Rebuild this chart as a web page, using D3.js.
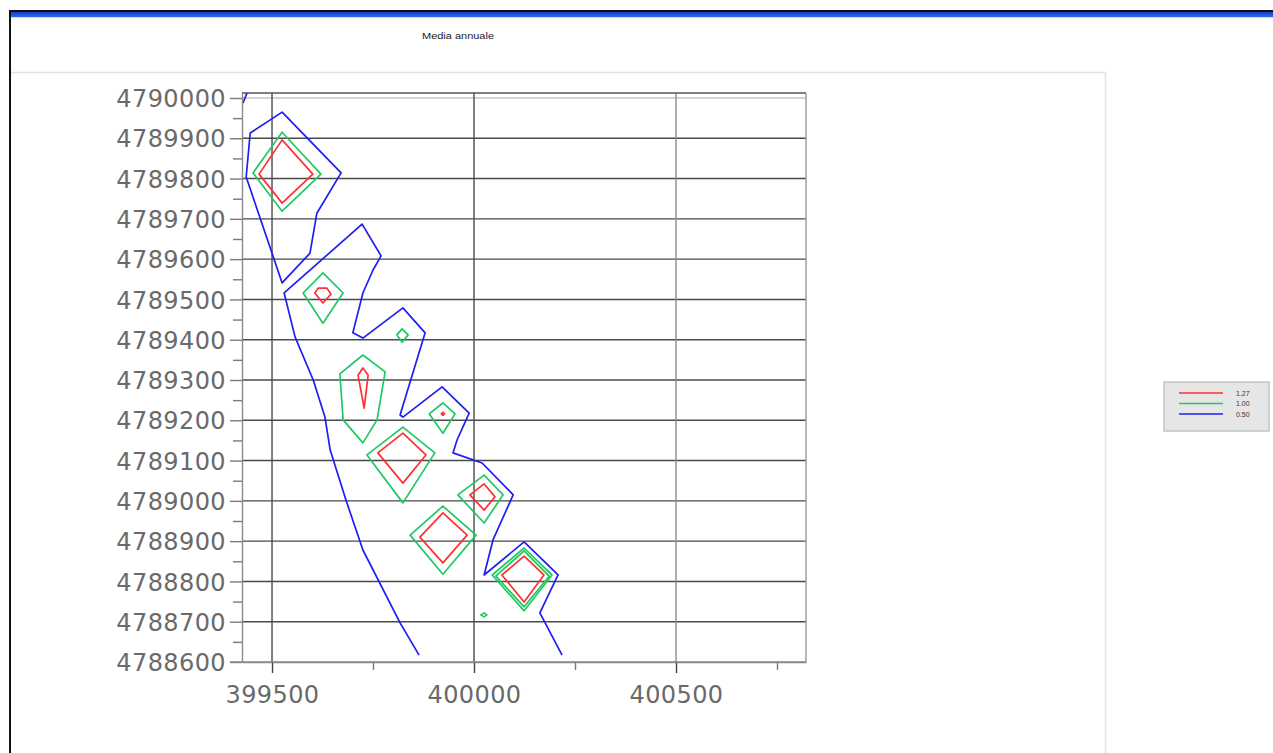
<!DOCTYPE html>
<html>
<head>
<meta charset="utf-8">
<script src="https://cdn.jsdelivr.net/npm/d3@7"></script>
<style>
  html, body { margin: 0; padding: 0; background: #ffffff; }
  svg { display: block; }
</style>
</head>
<body>
<svg id="chart" width="1273" height="753"></svg>
<script>
// ---------- data ----------
const title = "Media annuale";
const xTicks = [399500, 400000, 400500];
const xMinorTicks = [399750, 400250, 400750];
const yTicks = [4788600, 4788700, 4788800, 4788900, 4789000, 4789100, 4789200, 4789300,
                4789400, 4789500, 4789600, 4789700, 4789800, 4789900, 4790000];
const yMinorTicks = [4788650, 4788750, 4788850, 4788950, 4789050, 4789150, 4789250,
                     4789350, 4789450, 4789550, 4789650, 4789750, 4789850, 4789950];
const levels = ["1.27", "1.00", "0.50"];
const levelColors = ["#ff3030", "#20c864", "#1e1ef2"];

// contour level 0.50 (blue)
const blueOpen1 = [[399428, 4789987], [399438, 4790012]];
const blueLoop1 = [[399446, 4789913], [399525, 4789965], [399671, 4789814], [399611, 4789714],
                   [399594, 4789615], [399525, 4789541], [399436, 4789804]];
const blueOpen2 = [[399864, 4788617], [399817, 4788697], [399725, 4788878], [399683, 4789002],
                   [399644, 4789126], [399631, 4789208], [399602, 4789300], [399557, 4789407],
                   [399530, 4789516], [399723, 4789687], [399770, 4789608], [399750, 4789573],
                   [399725, 4789516], [399700, 4789417], [399725, 4789404], [399824, 4789479],
                   [399879, 4789417], [399817, 4789213], [399824, 4789208], [399921, 4789283],
                   [399988, 4789218], [399958, 4789151], [399948, 4789119], [400020, 4789094],
                   [400097, 4789015], [400047, 4788903], [400025, 4788816], [400124, 4788898],
                   [400208, 4788816], [400163, 4788722], [400218, 4788617]];

// contour level 1.00 (green)
const green1 = [[399525, 4789915], [399621, 4789811], [399525, 4789719], [399453, 4789814]];
const green2 = [[399626, 4789566], [399676, 4789516], [399626, 4789441], [399577, 4789516]];
const green3 = [[399822, 4789427], [399837, 4789412], [399822, 4789394], [399809, 4789412]];
const green4 = [[399725, 4789362], [399780, 4789320], [399760, 4789201], [399725, 4789144],
                [399676, 4789201], [399668, 4789315]];
const green5 = [[399923, 4789243], [399953, 4789216], [399923, 4789168], [399889, 4789216]];
const green6 = [[399824, 4789183], [399903, 4789119], [399824, 4788995], [399735, 4789114]];
const green7 = [[400025, 4789064], [400072, 4789015], [400025, 4788945], [399960, 4789015]];
const green8 = [[399923, 4788987], [400005, 4788915], [399923, 4788818], [399842, 4788915]];
const green9 = [[400124, 4788883], [400193, 4788816], [400124, 4788727], [400045, 4788816]];
const green9b = [[400124, 4788876], [400186, 4788813], [400124, 4788737], [400054, 4788813]];
const green10 = [[400017, 4788717], [400025, 4788722], [400032, 4788717], [400025, 4788712]];

// contour level 1.27 (red)
const red1 = [[399525, 4789896], [399601, 4789811], [399525, 4789739], [399468, 4789811]];
const red2 = [[399614, 4789528], [399636, 4789528], [399646, 4789513], [399626, 4789491], [399606, 4789516]];
const red4 = [[399725, 4789330], [399738, 4789312], [399728, 4789230], [399713, 4789312]];
const red5 = [[399923, 4789220], [399927, 4789216], [399923, 4789212], [399919, 4789216]];
const red6 = [[399824, 4789168], [399881, 4789114], [399824, 4789044], [399762, 4789119]];
const red7 = [[400025, 4789042], [400052, 4789010], [400025, 4788977], [399990, 4789015]];
const red8 = [[399923, 4788970], [399983, 4788915], [399923, 4788846], [399866, 4788910]];
const red9 = [[400124, 4788863], [400173, 4788816], [400124, 4788749], [400069, 4788816]];

const contours = [
  {level: "0.50", closed: false, pts: blueOpen1},
  {level: "0.50", closed: true,  pts: blueLoop1},
  {level: "0.50", closed: false, pts: blueOpen2},
  {level: "1.00", closed: true, pts: green1},
  {level: "1.00", closed: true, pts: green2},
  {level: "1.00", closed: true, pts: green3},
  {level: "1.00", closed: true, pts: green4},
  {level: "1.00", closed: true, pts: green5},
  {level: "1.00", closed: true, pts: green6},
  {level: "1.00", closed: true, pts: green7},
  {level: "1.00", closed: true, pts: green8},
  {level: "1.00", closed: true, pts: green9},
  {level: "1.00", closed: true, pts: green9b},
  {level: "1.00", closed: true, pts: green10},
  {level: "1.27", closed: true, pts: red1},
  {level: "1.27", closed: true, pts: red2},
  {level: "1.27", closed: true, pts: red4},
  {level: "1.27", closed: true, pts: red5},
  {level: "1.27", closed: true, pts: red6},
  {level: "1.27", closed: true, pts: red7},
  {level: "1.27", closed: true, pts: red8},
  {level: "1.27", closed: true, pts: red9}
];

// ---------- drawing ----------
const svg = d3.select("#chart");
const color = d3.scaleOrdinal().domain(levels).range(levelColors);

// window frame
svg.append("rect").attr("x", 0).attr("y", 0).attr("width", 1273).attr("height", 753).attr("fill", "#ffffff");
svg.append("rect").attr("x", 9).attr("y", 10).attr("width", 1264).attr("height", 2).attr("fill", "#111");
const grad = svg.append("defs").append("linearGradient").attr("id", "bar").attr("x1", 0).attr("x2", 0).attr("y1", 0).attr("y2", 1);
grad.append("stop").attr("offset", "0").attr("stop-color", "#1540c8");
grad.append("stop").attr("offset", "1").attr("stop-color", "#2f6ae8");
svg.append("rect").attr("x", 10).attr("y", 12).attr("width", 1263).attr("height", 5).attr("fill", "url(#bar)");
svg.append("rect").attr("x", 10).attr("y", 17).attr("width", 1263).attr("height", 1).attr("fill", "#c8d2e8");
svg.append("rect").attr("x", 9).attr("y", 10).attr("width", 2).attr("height", 743).attr("fill", "#111");

// panel border
svg.append("path").attr("d", "M11,72.5 H1105.5 V753").attr("fill", "none").attr("stroke", "#e2e2e2").attr("stroke-width", 1.5);

// title
svg.append("text").attr("x", 458).attr("y", 39).attr("text-anchor", "middle")
  .attr("font-family", "Liberation Sans, Arial, sans-serif").attr("font-size", 9)
  .attr("fill", "#222").attr("textLength", 72).attr("lengthAdjust", "spacingAndGlyphs")
  .text(title);

// scales
const x = d3.scaleLinear().domain([399425.7, 400821.8]).range([242, 806]);
const y = d3.scaleLinear().domain([4788600, 4790012.4]).range([662, 93]);

const plot = svg.append("g");

// horizontal gridlines
plot.selectAll("line.hg").data(yTicks.filter(d => d > 4788600)).join("line")
  .attr("class", "hg")
  .attr("x1", x.range()[0]).attr("x2", x.range()[1])
  .attr("y1", d => y(d)).attr("y2", d => y(d))
  .attr("stroke", d => d === 4790000 ? "#c4c4c4" : "#4a4a4a").attr("stroke-width", 1.4);

// vertical gridlines
plot.selectAll("line.vg").data(xTicks).join("line")
  .attr("class", "vg")
  .attr("x1", d => x(d)).attr("x2", d => x(d))
  .attr("y1", y.range()[1]).attr("y2", y.range()[0])
  .attr("stroke", d => d === 400500 ? "#8a8a8a" : "#4a4a4a").attr("stroke-width", 1.4);

// frame top & right
plot.append("line").attr("x1", 242).attr("x2", 806).attr("y1", y.range()[1]).attr("y2", y.range()[1])
  .attr("stroke", "#555").attr("stroke-width", 1.6);
plot.append("line").attr("x1", 806).attr("x2", 806).attr("y1", y.range()[1]).attr("y2", y.range()[0])
  .attr("stroke", "#9a9a9a").attr("stroke-width", 1.4);

// axes
const fontAxis = "DejaVu Sans, Verdana, sans-serif";
function styleAxis(g) {
  g.select(".domain").attr("stroke", "#8a8a8a").attr("stroke-width", 1.4);
  g.selectAll(".tick line").attr("stroke", "#7a7a7a").attr("stroke-width", 1.4);
  g.selectAll(".tick text").attr("fill", "#6a6a6a").attr("font-family", fontAxis)
    .attr("font-size", 24).attr("letter-spacing", "0.4px");
}
const yAxis = svg.append("g").attr("transform", "translate(242,0)")
  .call(d3.axisLeft(y).tickValues(yTicks).tickSize(12).tickSizeOuter(0).tickPadding(4).tickFormat(d3.format("d")));
styleAxis(yAxis);
yAxis.selectAll(".tick text").attr("dy", "0.36em");
const yMinor = svg.append("g").attr("transform", "translate(242,0)")
  .call(d3.axisLeft(y).tickValues(yMinorTicks).tickSize(9).tickFormat(""));
yMinor.select(".domain").remove();
yMinor.selectAll(".tick line").attr("stroke", "#7a7a7a").attr("stroke-width", 1.4);

const xAxis = svg.append("g").attr("transform", "translate(0,662)")
  .call(d3.axisBottom(x).tickValues(xTicks).tickSize(11).tickSizeOuter(0).tickPadding(13).tickFormat(d3.format("d")));
styleAxis(xAxis);
xAxis.selectAll(".tick line").attr("stroke", "#444");
const xMinor = svg.append("g").attr("transform", "translate(0,662)")
  .call(d3.axisBottom(x).tickValues(xMinorTicks).tickSize(8).tickFormat(""));
xMinor.select(".domain").remove();
xMinor.selectAll(".tick line").attr("stroke", "#7a7a7a").attr("stroke-width", 1.4);
// bottom axis extends to the left tick
svg.append("line").attr("x1", 230).attr("x2", 806).attr("y1", 662).attr("y2", 662)
  .attr("stroke", "#8a8a8a").attr("stroke-width", 1.4);

// contours
const lineOpen = d3.line().x(d => x(d[0])).y(d => y(d[1]));
const lineClosed = d3.line().x(d => x(d[0])).y(d => y(d[1])).curve(d3.curveLinearClosed);
plot.selectAll("path.contour").data(contours).join("path")
  .attr("class", "contour")
  .attr("d", d => (d.closed ? lineClosed : lineOpen)(d.pts))
  .attr("fill", "none")
  .attr("stroke", d => color(d.level))
  .attr("stroke-width", 1.7)
  .attr("stroke-linejoin", "round");

// legend
const lg = svg.append("g").attr("transform", "translate(1164,382)");
lg.append("rect").attr("width", 105).attr("height", 49).attr("fill", "#e6e6e6").attr("stroke", "#c4c4c4").attr("stroke-width", 1.5);
const items = lg.selectAll("g.item").data(levels).join("g").attr("class", "item")
  .attr("transform", (d, i) => `translate(0,${11 + i * 10.5})`);
items.append("line").attr("x1", 15).attr("x2", 59).attr("y1", 0).attr("y2", 0)
  .attr("stroke", d => color(d)).attr("stroke-width", 1.6);
items.append("text").attr("x", 72).attr("y", 2.5)
  .attr("font-family", "Liberation Sans, Arial, sans-serif").attr("font-size", 7).attr("fill", "#333")
  .text(d => d);
</script>
</body>
</html>
